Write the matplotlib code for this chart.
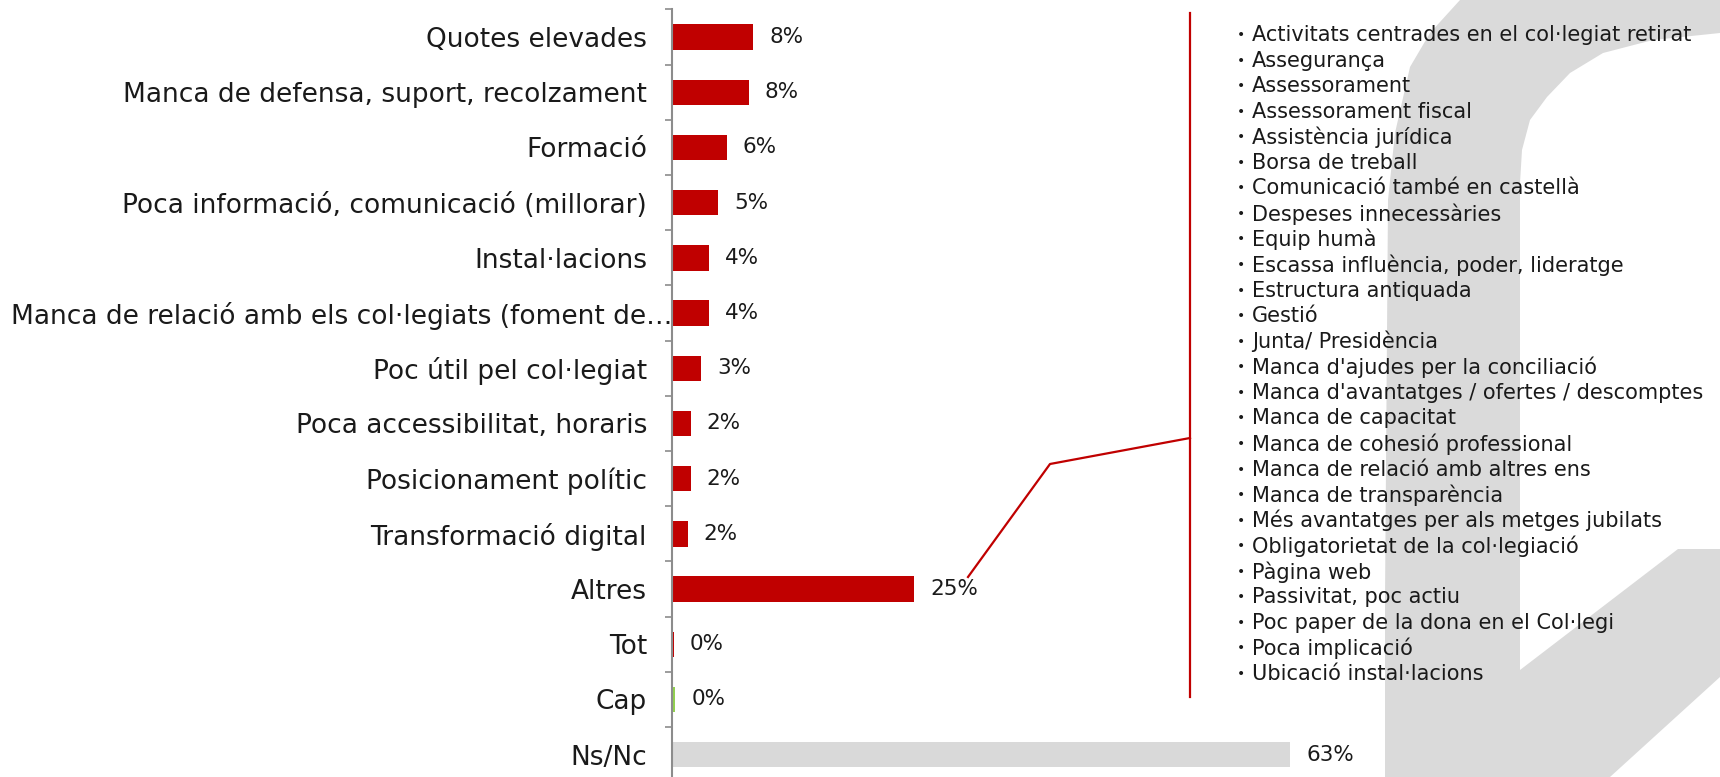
import numpy as np
import matplotlib
matplotlib.use("Agg")
import matplotlib.pyplot as plt
from matplotlib.patches import Polygon
from matplotlib.transforms import ScaledTranslation

# ---------------- data ----------------
categories = ["Quotes elevades",
              "Manca de defensa, suport, recolzament",
              "Formació",
              "Poca informació, comunicació (millorar)",
              "Instal·lacions",
              "Manca de relació amb els col·legiats (foment de…",
              "Poc útil pel col·legiat",
              "Poca accessibilitat, horaris",
              "Posicionament polític",
              "Transformació digital",
              "Altres",
              "Tot",
              "Cap",
              "Ns/Nc"]
values = [8.3, 7.8, 5.6, 4.7, 3.8, 3.8, 3.0, 1.9, 1.9, 1.6, 24.7, 0.2, 0.35, 63.0]
value_labels = ["8%", "8%", "6%", "5%", "4%", "4%", "3%", "2%", "2%", "2%",
                "25%", "0%", "0%", "63%"]

altres_items = ["Activitats centrades en el col·legiat retirat",
                "Assegurança",
                "Assessorament",
                "Assessorament fiscal",
                "Assistència jurídica",
                "Borsa de treball",
                "Comunicació també en castellà",
                "Despeses innecessàries",
                "Equip humà",
                "Escassa influència, poder, lideratge",
                "Estructura antiquada",
                "Gestió",
                "Junta/ Presidència",
                "Manca d'ajudes per la conciliació",
                "Manca d'avantatges / ofertes / descomptes",
                "Manca de capacitat",
                "Manca de cohesió professional",
                "Manca de relació amb altres ens",
                "Manca de transparència",
                "Més avantatges per als metges jubilats",
                "Obligatorietat de la col·legiació",
                "Pàgina web",
                "Passivitat, poc actiu",
                "Poc paper de la dona en el Col·legi",
                "Poca implicació",
                "Ubicació instal·lacions"]

RED = "#C00000"
GREEN = "#92D050"
GREY = "#D9D9D9"
bar_colors = [RED] * 12 + [GREEN, GREY]

W, H = 1720, 777
fig = plt.figure(figsize=(W / 100, H / 100), dpi=100)
fig.patch.set_facecolor("white")

# background layer in pixel coords (logo shape, list, connector)
bg = fig.add_axes([0, 0, 1, 1], zorder=0)
bg.set_xlim(0, W)
bg.set_ylim(H, 0)
bg.axis("off")

logo = [(1385, 777), (1385, 600), (1388, 200), (1395, 133), (1410, 67),
        (1430, 33), (1460, 0), (1720, 0), (1720, 33), (1653, 40),
        (1603, 53), (1570, 73), (1547, 97), (1530, 120), (1522, 150),
        (1520, 183), (1520, 670), (1678, 549), (1720, 549), (1720, 677),
        (1610, 777)]
bg.add_patch(Polygon(logo, closed=True, facecolor="#DADADA", edgecolor="none", zorder=0))

# bracket and connector for "Altres"
bg.plot([1190, 1190], [13, 697], color=RED, lw=1.6, zorder=2)
bg.plot([968, 1050, 1190], [577, 464, 438], color=RED, lw=1.6, zorder=2)

y0, dy = 35, 25.56
for i, item in enumerate(altres_items):
    yy = y0 + i * dy
    bg.text(1237, yy, "•", fontsize=10, va="center", ha="left", color="#1a1a1a", zorder=3)
    bg.text(1252, yy, item, fontsize=15, va="center", ha="left", color="#1a1a1a", zorder=3)

# ---------------- bar chart ----------------
n = len(categories)
ax = fig.add_axes([672 / W, -0.0068, 687 / W, 0.9946], zorder=1)
ax.patch.set_alpha(0)
y = np.arange(n)
ax.barh(y, values, height=0.46, color=bar_colors, zorder=2)
ax.set_xlim(0, 70)
ax.set_ylim(n - 0.5, -0.5)

for yi, v, lab in zip(y, values, value_labels):
    ax.annotate(lab, (v, yi), xytext=(11.5, 0), textcoords="offset points",
                va="center", ha="left", fontsize=15.5, color="#1a1a1a")

ax.set_yticks(y)
ax.set_yticklabels(categories, fontsize=19, color="#1a1a1a")
ax.tick_params(axis="y", which="major", length=0, pad=18)
ax.set_yticks(np.arange(n + 1) - 0.5, minor=True)
ax.tick_params(axis="y", which="minor", length=5, width=1.2, color="#8c8c8c")
ax.set_xticks([])
for s in ["top", "right", "bottom"]:
    ax.spines[s].set_visible(False)
ax.spines["left"].set_color("#8c8c8c")
ax.spines["left"].set_linewidth(1.5)

# the truncated label runs up to the axis line in the original
long_lab = ax.get_yticklabels()[5]
long_lab.set_transform(long_lab.get_transform() + ScaledTranslation(0.25, 0, fig.dpi_scale_trans))

fig.savefig("out.png", dpi=100)
